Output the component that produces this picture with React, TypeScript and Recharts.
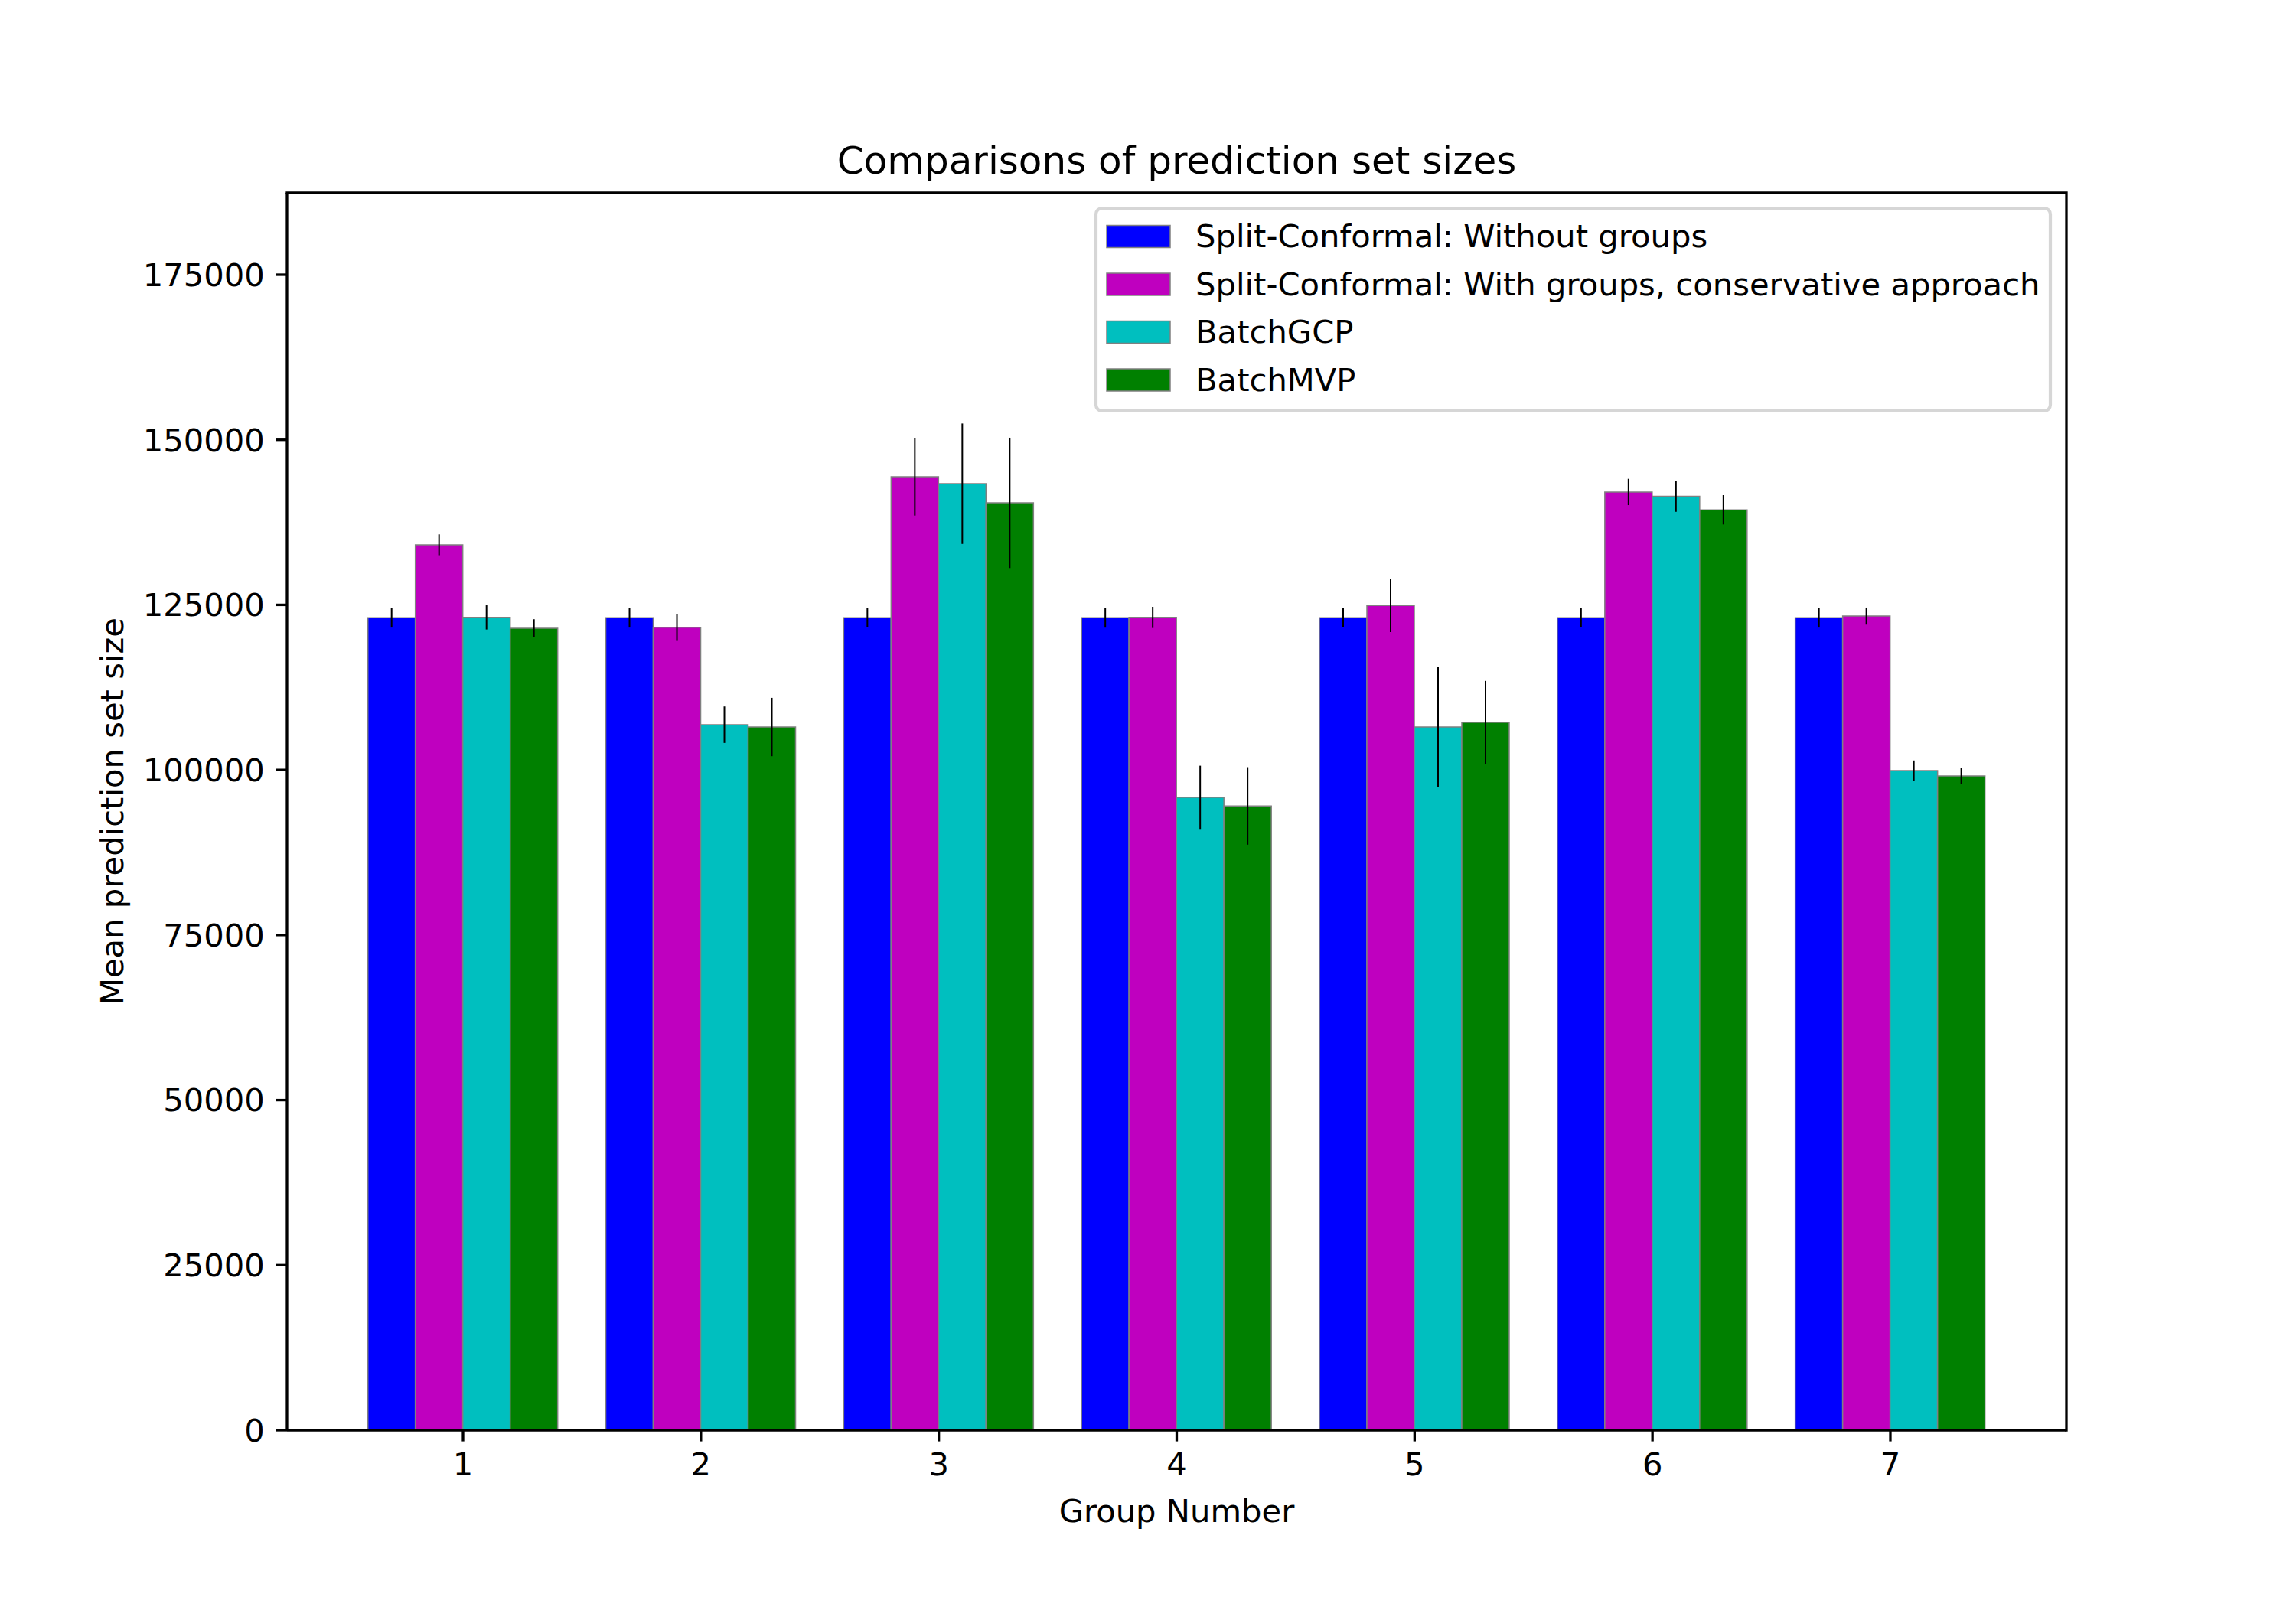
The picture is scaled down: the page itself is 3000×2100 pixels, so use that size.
import { BarChart, Bar, XAxis, YAxis, ErrorBar } from 'recharts';

const groups = ['1', '2', '3', '4', '5', '6', '7'];

const seriesNames = [
  'Split-Conformal: Without groups',
  'Split-Conformal: With groups, conservative approach',
  'BatchGCP',
  'BatchMVP',
];
const seriesColors = ['#0000ff', '#bf00bf', '#00bfbf', '#008000'];

const withoutGroups = [123050, 123050, 123050, 123050, 123050, 123050, 123050];
const withoutGroupsErr = [1490, 1490, 1450, 1500, 1470, 1470, 1490];
const conservative = [134100, 121600, 144400, 123100, 124900, 142100, 123300];
const conservativeErr = [1580, 1950, 5870, 1600, 4020, 1990, 1290];
const batchGCP = [123100, 106850, 143350, 95850, 106500, 141450, 99900];
const batchGCPErr = [1830, 2760, 9120, 4790, 9120, 2350, 1530];
const batchMVP = [121450, 106500, 140450, 94550, 107200, 139400, 99100];
const batchMVPErr = [1370, 4420, 9870, 5870, 6280, 2220, 1180];

const yTicks = [0, 25000, 50000, 75000, 100000, 125000, 150000, 175000];

const seriesValues = [withoutGroups, conservative, batchGCP, batchMVP];
const seriesErrors = [withoutGroupsErr, conservativeErr, batchGCPErr, batchMVPErr];

const data = groups.map((group, i) => {
  const row: Record<string, string | number> = { group };
  seriesValues.forEach((vals, s) => {
    row[`s${s}`] = vals[i];
    row[`e${s}`] = seriesErrors[s][i];
  });
  return row;
});

const FONT = '"DejaVu Sans", sans-serif';
const FS = 41.7;
const SPINE = 3.3;

// matplotlib-ish figure box (10x7 in @ 300 dpi)
const W = 3000;
const H = 2100;
const PLOT_LEFT = 375;
const PLOT_RIGHT = 2700;
const PLOT_TOP = 252;
const PLOT_BOTTOM = 1869;

const legendX = 1432;
const legendY = 272;

export default function App() {
  const axisLine = { stroke: '#000', strokeWidth: SPINE };
  const tickStyle = { fontSize: FS, fill: '#000', fontFamily: FONT };

  return (
    <div style={{ position: 'absolute', left: 0, top: 0, width: W, height: H, background: '#fff' }}>
      <BarChart
        width={W}
        height={H}
        data={data}
        barGap={0}
        barCategoryGap="10%"
        margin={{ top: PLOT_TOP, right: W - PLOT_RIGHT, bottom: H - PLOT_BOTTOM - 100, left: PLOT_LEFT - 200 }}
      >
        <XAxis
          dataKey="group"
          height={100}
          interval={0}
          padding={{ left: 74.6, right: 74.6 }}
          tick={tickStyle}
          tickSize={14.6}
          tickMargin={14.6}
          tickLine={axisLine}
          axisLine={axisLine}
        />
        <YAxis
          type="number"
          width={200}
          domain={[0, 187400]}
          ticks={yTicks}
          interval={0}
          allowDataOverflow
          tick={tickStyle}
          tickSize={14.6}
          tickMargin={14.6}
          tickLine={axisLine}
          axisLine={axisLine}
        />
        {seriesNames.map((name, s) => (
          <Bar
            key={name}
            dataKey={`s${s}`}
            name={name}
            fill={seriesColors[s]}
            stroke="#808080"
            strokeWidth={1.5}
            isAnimationActive={false}
          >
            <ErrorBar
              dataKey={`e${s}`}
              direction="y"
              width={0}
              stroke="#000"
              strokeWidth={2}
              isAnimationActive={false}
            />
          </Bar>
        ))}
      </BarChart>

      <svg
        width={W}
        height={H}
        style={{ position: 'absolute', left: 0, top: 0, pointerEvents: 'none' }}
        fontFamily={FONT}
      >
        {/* top and right spines */}
        <polyline
          points={`${PLOT_LEFT},${PLOT_TOP} ${PLOT_RIGHT},${PLOT_TOP} ${PLOT_RIGHT},${PLOT_BOTTOM}`}
          fill="none"
          stroke="#000"
          strokeWidth={SPINE}
          strokeLinecap="square"
        />
        <text x={(PLOT_LEFT + PLOT_RIGHT) / 2} y={227} textAnchor="middle" fontSize={50} fill="#000">
          Comparisons of prediction set sizes
        </text>
        <text x={(PLOT_LEFT + PLOT_RIGHT) / 2} y={1989} textAnchor="middle" fontSize={FS} fill="#000">
          Group Number
        </text>
        <text
          x={161}
          y={(PLOT_TOP + PLOT_BOTTOM) / 2}
          textAnchor="middle"
          fontSize={FS}
          fill="#000"
          transform={`rotate(-90 161 ${(PLOT_TOP + PLOT_BOTTOM) / 2})`}
        >
          Mean prediction set size
        </text>

        <rect
          x={legendX}
          y={legendY}
          width={1247}
          height={265}
          rx={8}
          fill="#fff"
          fillOpacity={0.8}
          stroke="#d6d6d6"
          strokeWidth={4.2}
        />
        {seriesNames.map((name, s) => {
          const cy = legendY + 37 + s * 62.5;
          return (
            <g key={name}>
              <rect
                x={legendX + 14}
                y={cy - 14.5}
                width={83}
                height={29}
                fill={seriesColors[s]}
                stroke="#808080"
                strokeWidth={1.5}
              />
              <text x={legendX + 130} y={cy + 14} fontSize={FS} fill="#000">
                {name}
              </text>
            </g>
          );
        })}
      </svg>
    </div>
  );
}
